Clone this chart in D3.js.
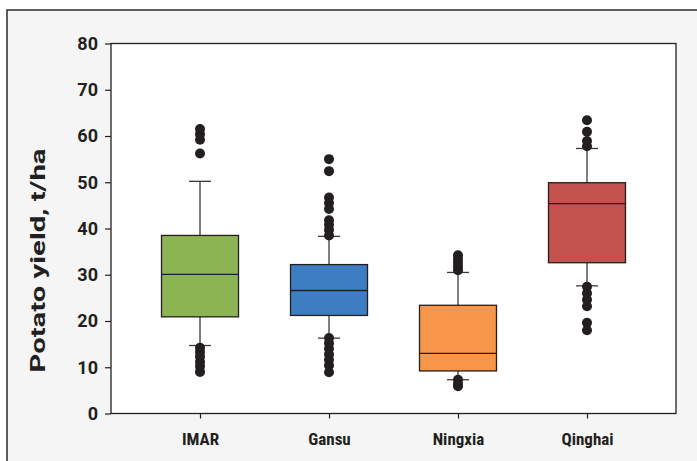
<!DOCTYPE html>
<html>
<head>
<meta charset="utf-8">
<script src="https://cdn.jsdelivr.net/npm/d3@7"></script>
<style>
  body { margin: 0; background: #ffffff; }
  text { font-family: "Roboto Condensed", "Liberation Sans Narrow", "DejaVu Sans Condensed", Roboto, sans-serif; font-weight: bold; fill: #231f20; }
  .wide { font-family: Roboto, "Liberation Sans", sans-serif; }
</style>
</head>
<body>
<script>
// regions on the x axis
const regions = ["IMAR", "Gansu", "Ningxia", "Qinghai"];
const boxColors = ["#8db453", "#3f7dc2", "#f7964a", "#c3524f"];

// box stats (t/ha)
const q1 = [20.9, 21.2, 9.2, 32.6];
const medians = [30.1, 26.6, 13.0, 45.4];
const q3 = [38.5, 32.2, 23.4, 49.9];
const whiskerLow = [14.7, 16.3, 7.3, 27.6];
const whiskerHigh = [50.2, 38.3, 30.5, 57.3];

// outlying points per region
const outliers = [
    [61.5, 60.4, 59.2, 56.2, 14.2, 13.3, 12.3, 11.2, 10.2, 9.0],
    [55.0, 52.4, 46.7, 45.5, 44.2, 41.8, 40.8, 39.7, 38.5, 16.3, 15.2, 14.0, 12.8, 11.6, 10.4, 8.9],
    [34.2, 33.4, 32.6, 31.8, 31.0, 7.3, 6.4, 5.9],
    [63.4, 60.9, 58.9, 57.8, 27.4, 26.0, 24.6, 23.2, 19.6, 18.0]
];

const yTicks = [0, 10, 20, 30, 40, 50, 60, 70, 80];

const W = 697, H = 461;
const plot = {left: 111, right: 676, top: 43.5, bottom: 413.5};

const svg = d3.select("body").append("svg")
    .attr("width", W)
    .attr("height", H);

// gray panel with frame
svg.append("rect")
    .attr("x", 7).attr("y", 10)
    .attr("width", W + 10).attr("height", H + 10)
    .attr("fill", "#f5f5f5")
    .attr("stroke", "#2b2b2b")
    .attr("stroke-width", 1.5);

const x = d3.scalePoint()
    .domain(regions)
    .range([plot.left, plot.right])
    .padding(0.69);

const y = d3.scaleLinear()
    .domain([0, 80])
    .range([plot.bottom, plot.top]);

svg.append("rect")
    .attr("x", plot.left).attr("y", plot.top)
    .attr("width", plot.right - plot.left)
    .attr("height", plot.bottom - plot.top)
    .attr("fill", "#ffffff")
    .attr("stroke", "#231f20")
    .attr("stroke-width", 1.3);

// y axis
const yAxis = svg.append("g")
    .attr("transform", `translate(${plot.left},0)`)
    .call(d3.axisLeft(y).tickValues(yTicks).tickSize(6).tickPadding(7));
yAxis.select(".domain").remove();
yAxis.selectAll("line").attr("stroke", "#231f20").attr("stroke-width", 1.2);
yAxis.selectAll("text")
    .attr("class", "wide")
    .style("font-size", "18px")
    .attr("fill", "#231f20");

// x axis
const xAxis = svg.append("g")
    .attr("transform", `translate(0,${plot.bottom})`)
    .call(d3.axisBottom(x).tickSize(5).tickPadding(14));
xAxis.select(".domain").remove();
xAxis.selectAll("line").attr("stroke", "#231f20").attr("stroke-width", 1.2);
xAxis.selectAll("text").style("font-size", "17px").attr("fill", "#231f20");

// axis title (stretched along its length like the source figure)
svg.append("text")
    .attr("class", "wide")
    .attr("transform", `translate(45,${(plot.top + plot.bottom) / 2 + 32}) rotate(-90)`)
    .attr("text-anchor", "middle")
    .attr("textLength", 224)
    .attr("lengthAdjust", "spacingAndGlyphs")
    .style("font-size", "20px")
    .text("Potato yield, t/ha");

const boxW = 77, capW = 22;

const groups = svg.selectAll("g.box")
    .data(regions)
    .enter().append("g")
    .attr("class", "box");

// whiskers
groups.append("line")
    .attr("x1", d => x(d)).attr("x2", d => x(d))
    .attr("y1", (d, i) => y(whiskerHigh[i]))
    .attr("y2", (d, i) => y(whiskerLow[i]))
    .attr("stroke", "#3a3a3a").attr("stroke-width", 1.3);

[whiskerHigh, whiskerLow].forEach(arr => {
    groups.append("line")
        .attr("x1", d => x(d) - capW / 2).attr("x2", d => x(d) + capW / 2)
        .attr("y1", (d, i) => y(arr[i])).attr("y2", (d, i) => y(arr[i]))
        .attr("stroke", "#3a3a3a").attr("stroke-width", 1.3);
});

// boxes
groups.append("rect")
    .attr("x", d => x(d) - boxW / 2)
    .attr("y", (d, i) => y(q3[i]))
    .attr("width", boxW)
    .attr("height", (d, i) => y(q1[i]) - y(q3[i]))
    .attr("fill", (d, i) => boxColors[i])
    .attr("stroke", "#231f20").attr("stroke-width", 1.3);

groups.append("line")
    .attr("x1", d => x(d) - boxW / 2).attr("x2", d => x(d) + boxW / 2)
    .attr("y1", (d, i) => y(medians[i])).attr("y2", (d, i) => y(medians[i]))
    .attr("stroke", "#231f20").attr("stroke-width", 1.3);

// outlier dots
groups.each(function (d, i) {
    d3.select(this).selectAll("circle")
        .data(outliers[i])
        .enter().append("circle")
        .attr("cx", x(d))
        .attr("cy", v => y(v))
        .attr("r", 5)
        .attr("fill", "#231f20");
});
</script>
</body>
</html>
